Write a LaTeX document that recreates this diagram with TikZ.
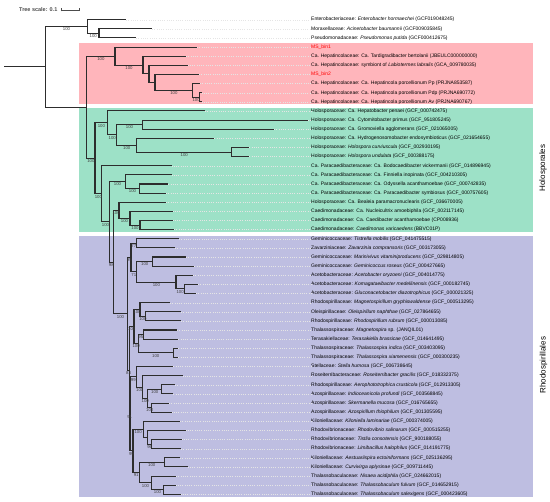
\documentclass[tikz,border=0pt]{standalone}
\usepackage{fontspec}
\setmainfont{Liberation Sans}
\usetikzlibrary{calc,arrows.meta}

\definecolor{cladered}{RGB}{255,181,187}
\definecolor{cladegreen}{RGB}{157,225,199}
\definecolor{cladeblue}{RGB}{190,190,225}
\definecolor{binred}{RGB}{255,0,0}
\definecolor{branchgray}{RGB}{45,45,45}

% internal node: name, x, child 1, support 1, child 2, support 2
\newcommand\clade[6]{%
  \path let \p1=($(#3)!0.5!(#5)$) in coordinate (#1) at (#2pt,\y1);
  \draw[branch] (#1) |- node[boot,pos=.75]{#4} (#3);
  \draw[branch] (#1) |- node[boot,pos=.75]{#6} (#5);}

\begin{document}
\begin{tikzpicture}[
    x=1pt, y=-1pt,
    branch/.style={draw=branchgray, line width=1.05pt},
    guide/.style={draw=black!10, dotted, line width=0.25pt},
    boot/.style={below, inner sep=0.7pt, text=black!75, font=\fontsize{4.3}{5}\selectfont},
    leaf/.style={anchor=west, inner sep=0pt, font=\fontsize{5}{6}\selectfont},
    order/.style={rotate=90, font=\fontsize{8}{9}\selectfont}
]
  \useasboundingbox (0,0) rectangle (550,502);

  % clade backgrounds
  \fill[cladered] (78.7,43.3) rectangle (532.7,104.3);
  \fill[cladegreen] (78.7,108) rectangle (532.7,232.3);
  \fill[cladeblue] (78.7,236) rectangle (532.7,497.3);

  % leaves: tip x / label
  \foreach \tx/\lab [count=\i] in {
    126/{Enterobacteriaceae: \textit{Enterobacter hormaechei} (GCF019048245)},
    152/{Moraxellaceae: \textit{Acinetobacter baumannii} (GCF009035845)},
    136/{Pseudomonadaceae: \textit{Pseudomonas putida} (GCF000412675)},
    197/{\textcolor{binred}{MS\_bin1}},
    186/{Ca. Hepatincolaceae: Ca. Tardigradibacter bertolanii (JBEULC000000000)},
    187.7/{Ca. Hepatincolaceae: symbiont of \textit{Labiotermes labralis} (GCA\_009780035)},
    199/{\textcolor{binred}{MS\_bin2}},
    200/{Ca. Hepatincolaceae: Ca. Hepatincola porcellionum Pp (PRJNA853587)},
    201.5/{Ca. Hepatincolaceae: Ca. Hepatincola porcellionum Pdp (PRJNA690772)},
    201.5/{Ca. Hepatincolaceae: Ca. Hepatincola porcellionum Av (PRJNA690767)},
    205/{Holosporaceae: Ca. Hepatobacter penaei (GCF\_000742475)},
    308/{Holosporaceae: Ca. Cytomitobacter primus (GCF\_951805245)},
    274/{Holosporaceae: Ca. Gromoviella agglomerans (GCF\_021065005)},
    214.3/{Holosporaceae: Ca. Hydrogenosomobacter endosymbioticus (GCF\_021654655)},
    249.3/{Holosporaceae: \textit{Holospora curviuscula} (GCF\_002930195)},
    249.3/{Holosporaceae: \textit{Holospora undulata} (GCF\_000388175)},
    171.7/{Ca. Paracaedibacteraceae: Ca. Bodocaedibacter vickermanii (GCF\_014896945)},
    171.7/{Ca. Paracaedibacteraceae: Ca. Finniella inopinata (GCF\_004210305)},
    168.3/{Ca. Paracaedibacteraceae: Ca. Odyssella acanthamoebae (GCF\_000742835)},
    166/{Ca. Paracaedibacteraceae: Ca. Paracaedibacter symbiosus (GCF\_000757605)},
    166/{Holosporaceae: Ca. Bealeia paramacronuclearis (GCF\_036670005)},
    172.7/{Caedimonadaceae: Ca. Nucleicultrix amoebiphila (GCF\_002117145)},
    172.7/{Caedimonadaceae: Ca. Caedibacter acanthamoebae (CP008936)},
    174/{Caedimonadaceae: \textit{Caedimonas varicaedens} (BBVC01P)},
    179/{Geminicoccaceae: \textit{Tistrella mobilis} (GCF\_041475515)},
    175/{Zavarziniaceae: \textit{Zavarzinia compransoris} (GCF\_003173055)},
    186/{Geminicoccaceae: \textit{Marinivivus vitaminiproducens} (GCF\_029814805)},
    194.3/{Geminicoccaceae: \textit{Geminicoccus roseus} (GCF\_000427665)},
    193/{Acetobacteraceae: \textit{Acetobacter oryzoeni} (GCF\_004014775)},
    198/{Acetobacteraceae: \textit{Komagataeibacter medellinensis} (GCF\_000182745)},
    196/{Acetobacteraceae: \textit{Gluconacetobacter diazotrophicus} (GCF\_000021325)},
    170/{Rhodospirillaceae: \textit{Magnetospirillum gryphiswaldense} (GCF\_000513295)},
    181/{Oleispirillaceae: \textit{Oleispirillum naphthae} (GCF\_027864655)},
    181/{Rhodospirillaceae: \textit{Rhodospirillum rubrum} (GCF\_000013085)},
    177/{Thalassospiraceae: \textit{Magnetospira} sp. (JANQIL01)},
    178.3/{Terasakiellaceae: \textit{Terasakiella brassicae} (GCF\_014641495)},
    178.3/{Thalassospiraceae: \textit{Thalassospira indica} (GCF\_003403095)},
    178.3/{Thalassospiraceae: \textit{Thalassospira xiamenensis} (GCF\_000300235)},
    173.3/{Stellaceae: \textit{Stella humosa} (GCF\_006738645)},
    182.7/{Roseiterribacteraceae: \textit{Roseiterribacter gracilis} (GCF\_018332375)},
    175/{Rhodospirillaceae: \textit{Aerophototrophica crusticola} (GCF\_012913305)},
    173.3/{Azospirillaceae: \textit{Indioceanicola profundi} (GCF\_003568845)},
    169/{Azospirillaceae: \textit{Skermanella mucosa} (GCF\_016765655)},
    171.7/{Azospirillaceae: \textit{Azospirillum thiophilum} (GCF\_001305595)},
    180/{Kiloniellaceae: \textit{Kiloniella laminariae} (GCF\_000374005)},
    185.7/{Rhodovibrionaceae: \textit{Rhodovibrio salinarum} (GCF\_000515255)},
    181.7/{Rhodovibrionaceae: \textit{Tistlia consotensis} (GCF\_900188055)},
    181/{Rhodovibrionaceae: \textit{Limibacillus halophilus} (GCF\_014191775)},
    180/{Kiloniellaceae: \textit{Aestuariispira ectoiniformans} (GCF\_025136295)},
    187.7/{Kiloniellaceae: \textit{Curvivirga aplysinae} (GCF\_009711445)},
    176/{Thalassobaculaceae: \textit{Nisaea acidiphila} (GCF\_024662015)},
    175.7/{Thalassobaculaceae: \textit{Thalassobaculum fulvum} (GCF\_014652915)},
    180.7/{Thalassobaculaceae: \textit{Thalassobaculum salexigens} (GCF\_000423605)}}
  {
    \pgfmathsetmacro\ly{19.7+9.127*(\i-1)}
    \coordinate (l\i) at (\tx,\ly);
    \node[leaf] (t\i) at (311,\ly) {\lab};
    \draw[guide] (l\i) -- (t\i.west);
  }

  % outgroup
  \clade{oMP}{99}{l2}{}{l3}{}
  \clade{oG}{87.6}{l1}{}{oMP}{100}
  % Hepatincolaceae and bins
  \clade{rW}{199.5}{l9}{}{l10}{}
  \clade{rZ}{192.7}{l8}{}{rW}{100}
  \clade{rY}{155}{l7}{}{rZ}{100}
  \clade{rX}{149}{l6}{}{rY}{}
  \clade{rV}{143}{l5}{}{rX}{}
  \clade{rU}{115}{l4}{}{rV}{100}
  % Holosporales
  \clade{gHol}{231.7}{l15}{}{l16}{}
  \clade{gHyd}{136.7}{l14}{}{gHol}{100}
  \clade{gCyt}{142.3}{l12}{}{l13}{}
  \clade{gHolo}{116.7}{gCyt}{100}{gHyd}{100}
  \clade{gHep}{107.7}{l11}{}{gHolo}{100}
  \clade{gOdy}{139.3}{l19}{}{l20}{}
  \clade{gFin}{125.7}{l18}{}{gOdy}{100}
  \clade{gCae2}{140}{l23}{}{l24}{}
  \clade{gCae1}{130}{l22}{}{gCae2}{100}
  \clade{gBea}{119}{l21}{}{gCae1}{100}
  % Rhodospirillales
  \clade{pTZ}{136.7}{l25}{}{l26}{}
  \clade{pMG}{152.7}{l27}{}{l28}{}
  \clade{pKG}{184.3}{l30}{}{l31}{}
  \clade{pAce}{176}{l29}{}{pKG}{100}
  \clade{pGA}{136.7}{pMG}{100}{pAce}{100}
  \clade{pGem}{131}{pTZ}{77}{pGA}{71}
  \clade{pOR}{145.7}{l33}{}{l34}{}
  \clade{pRsp}{140}{l32}{}{pOR}{100}
  \clade{pMT}{143.3}{l35}{}{l36}{}
  \clade{pTha}{173.3}{l37}{}{l38}{}
  \clade{pMTT}{138.3}{pMT}{95}{pTha}{100}
  \clade{pRT}{134}{pRsp}{100}{pMTT}{100}
  \clade{pAI}{161.7}{l41}{}{l42}{}
  \clade{pSA}{151.7}{l43}{}{l44}{}
  \clade{pAz}{147.7}{pAI}{100}{pSA}{100}
  \clade{pRos}{142.7}{l40}{}{pAz}{100}
  \clade{pSte}{136.7}{l39}{}{pRos}{100}
  \clade{pTL}{151.7}{l47}{}{l48}{}
  \clade{pRvb}{147.7}{l46}{}{pTL}{96}
  \clade{pKil}{143.3}{l45}{}{pRvb}{}
  \clade{pAC}{164.3}{l49}{}{l50}{}
  \clade{pFS}{163.3}{l52}{}{l53}{}
  \clade{pNis}{151.7}{l51}{}{pFS}{100}
  \clade{pThb}{139.3}{pAC}{100}{pNis}{100}
  \clade{pKT}{133}{pKil}{100}{pThb}{91}
  \clade{pSK}{130}{pSte}{99}{pKT}{99}
  \clade{pRest}{129.5}{pRT}{100}{pSK}{91}
  \clade{pRho}{127.7}{pGem}{95}{pRest}{83}
  % backbone
  \clade{n98}{113.3}{gBea}{100}{pRho}{100}
  \clade{n109}{109.3}{gFin}{100}{n98}{98}
  \clade{n101}{101.7}{l17}{}{n109}{100}
  \clade{n95}{95}{gHep}{100}{n101}{100}
  \clade{ingrp}{86.7}{rU}{100}{n95}{100}
  \clade{root}{45.3}{oG}{100}{ingrp}{}
  \coordinate (stem) at (4.3,0 |- root);
  \draw[branch] (stem) -- (root);

  % order labels
  \node[order] (holo) at (543,168) {Holosporales};
  \node[order] (rhodo) at (543.5,365) {Rhodospirillales};

  % tree scale
  \node[anchor=west, inner sep=0pt, text=black!70, font=\bfseries\fontsize{5.5}{6}\selectfont] (scale) at (19,10) {Tree scale: 0.1};
  \coordinate (sb1) at ([xshift=3pt]scale.east);
  \coordinate (sb2) at ([xshift=22pt]scale.east);
  \draw[black!70, line width=0.5pt, {Bar[width=3pt]}-{Bar[width=3pt]}] (sb1) -- (sb2);
\end{tikzpicture}
\end{document}
